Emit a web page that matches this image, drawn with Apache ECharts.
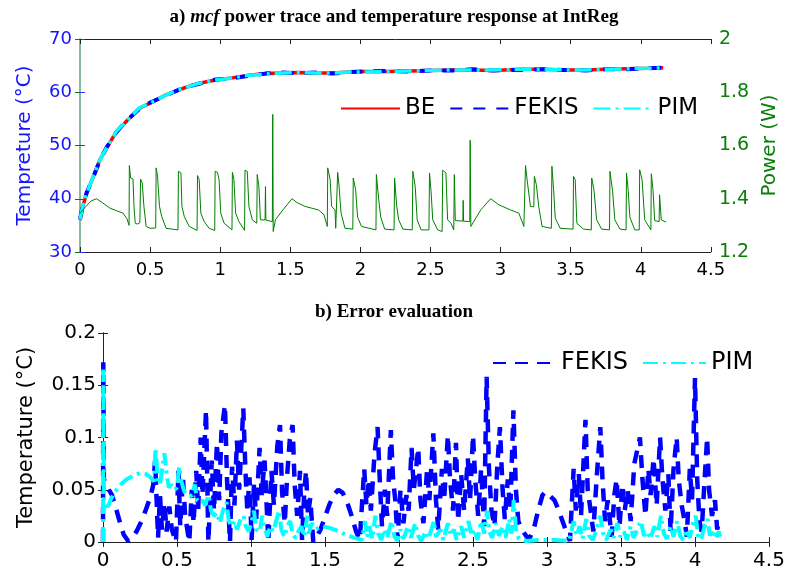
<!DOCTYPE html>
<html><head><meta charset="utf-8">
<script src="https://cdn.jsdelivr.net/npm/echarts@6/dist/echarts.min.js"></script>
<style>html,body{margin:0;padding:0;background:#fff}#c{width:788px;height:580px}</style>
</head><body><div id="c"></div>
<script>
// ---------- Panel a: temperature (°C) ----------
const tempT = [0, 0.02, 0.047, 0.094, 0.142, 0.189, 0.26, 0.33, 0.425, 0.496,
  0.614, 0.732, 0.85, 0.968, 1.087, 1.205, 1.323, 1.44, 1.56, 1.68,
  1.8, 1.92, 2.03, 2.2, 2.35, 2.5, 2.67, 2.8, 2.95, 3.14,
  3.3, 3.45, 3.61, 3.75, 3.9, 4.05, 4.16];
const beTemp = [36.0, 38.6, 41.0, 44.1, 47.3, 49.5, 52.6, 54.5, 57.0, 57.9,
  59.5, 60.7, 61.7, 62.3, 62.7, 63.2, 63.5, 63.6, 63.7, 63.6,
  63.6, 63.8, 63.9, 63.9, 64.0, 64.1, 64.2, 64.2, 64.1, 64.3,
  64.3, 64.2, 64.2, 64.3, 64.4, 64.5, 64.6];
const fekisTemp = [36.2, 38.7, 41.1, 44.0, 47.2, 49.6, 52.5, 54.6, 56.9, 58.0,
  59.4, 60.8, 61.6, 62.4, 62.6, 63.1, 63.5, 63.7, 63.6, 63.7,
  63.5, 63.8, 63.9, 64.0, 63.9, 64.1, 64.1, 64.3, 64.1, 64.2,
  64.3, 64.2, 64.1, 64.3, 64.3, 64.5, 64.6];
const pimTemp = [36.1, 38.7, 41.0, 44.2, 47.3, 49.5, 52.7, 54.5, 57.1, 57.9,
  59.5, 60.7, 61.7, 62.3, 62.7, 63.2, 63.4, 63.6, 63.7, 63.6,
  63.6, 63.8, 63.8, 63.9, 64.0, 64.1, 64.2, 64.2, 64.2, 64.3,
  64.3, 64.2, 64.2, 64.3, 64.4, 64.5, 64.6];

// ---------- Panel a: power trace (W) ----------
const powerT = [
  0, 0.04, 0.08, 0.118, 0.16, 0.213, 0.26, 0.307, 0.335, 0.35,
  0.352, 0.361, 0.378, 0.385, 0.394, 0.41, 0.427, 0.432, 0.444, 0.456,
  0.472, 0.50, 0.54, 0.543, 0.553, 0.567, 0.583, 0.614, 0.699, 0.702,
  0.72, 0.727, 0.744, 0.779, 0.835, 0.838, 0.85, 0.862, 0.886, 0.921,
  0.961, 0.964, 0.98, 0.992, 1.004, 1.028, 1.084, 1.087, 1.098, 1.11,
  1.134, 1.174, 1.177, 1.193, 1.205, 1.229, 1.261, 1.264, 1.276, 1.287,
  1.32, 1.323, 1.326, 1.372, 1.375, 1.378, 1.394, 1.45, 1.512, 1.55,
  1.606, 1.65, 1.701, 1.74, 1.764, 1.767, 1.784, 1.795, 1.819, 1.824,
  1.835, 1.838, 1.847, 1.862, 1.89, 1.946, 1.949, 1.966, 1.98, 2.008,
  2.111, 2.114, 2.131, 2.145, 2.173, 2.24, 2.244, 2.258, 2.273, 2.303,
  2.37, 2.374, 2.391, 2.405, 2.433, 2.489, 2.493, 2.504, 2.516, 2.551,
  2.583, 2.587, 2.61, 2.622, 2.646, 2.666, 2.67, 2.677, 2.731, 2.733,
  2.736, 2.78, 2.783, 2.788, 2.858, 2.929, 2.988, 3.071, 3.13, 3.166,
  3.175, 3.178, 3.189, 3.213, 3.237, 3.241, 3.255, 3.272, 3.296, 3.362,
  3.366, 3.378, 3.39, 3.425, 3.517, 3.52, 3.532, 3.544, 3.591, 3.647,
  3.65, 3.666, 3.685, 3.721, 3.777, 3.78, 3.799, 3.815, 3.851, 3.895,
  3.898, 3.91, 3.922, 3.957, 3.989, 3.992, 4.009, 4.028, 4.072, 4.075,
  4.087, 4.099, 4.131, 4.134, 4.146, 4.181];
const powerW = [
  1.345, 1.37, 1.392, 1.40, 1.385, 1.365, 1.355, 1.346, 1.325, 1.30,
  1.525, 1.478, 1.474, 1.371, 1.308, 1.305, 1.31, 1.474, 1.459, 1.371,
  1.296, 1.289, 1.29, 1.516, 1.485, 1.371, 1.333, 1.289, 1.283, 1.503,
  1.497, 1.371, 1.333, 1.296, 1.281, 1.487, 1.472, 1.346, 1.314, 1.289,
  1.281, 1.503, 1.499, 1.472, 1.346, 1.308, 1.283, 1.499, 1.472, 1.346,
  1.314, 1.281, 1.507, 1.503, 1.371, 1.321, 1.308, 1.491, 1.446, 1.321,
  1.32, 1.446, 1.32, 1.314, 1.717, 1.277, 1.321, 1.36, 1.40, 1.385,
  1.371, 1.365, 1.358, 1.34, 1.296, 1.516, 1.472, 1.371, 1.358, 1.289,
  1.289, 1.499, 1.453, 1.346, 1.289, 1.286, 1.478, 1.434, 1.331, 1.296,
  1.283, 1.491, 1.396, 1.331, 1.286, 1.283, 1.478, 1.377, 1.321, 1.286,
  1.283, 1.503, 1.446, 1.321, 1.283, 1.283, 1.497, 1.428, 1.321, 1.283,
  1.277, 1.507, 1.497, 1.321, 1.308, 1.283, 1.491, 1.318, 1.316, 1.394,
  1.316, 1.314, 1.62, 1.296, 1.358, 1.40, 1.377, 1.358, 1.346, 1.296,
  1.296, 1.525, 1.472, 1.371, 1.37, 1.484, 1.453, 1.371, 1.296, 1.289,
  1.522, 1.434, 1.327, 1.289, 1.286, 1.484, 1.472, 1.308, 1.286, 1.283,
  1.478, 1.434, 1.321, 1.286, 1.283, 1.503, 1.428, 1.321, 1.286, 1.283,
  1.497, 1.434, 1.331, 1.283, 1.283, 1.509, 1.472, 1.321, 1.283, 1.494,
  1.434, 1.318, 1.314, 1.415, 1.321, 1.312];

// ---------- Panel b: error (°C) ----------
const fekisErrT = [
  0, 0.002, 0.006, 0.02, 0.04, 0.06, 0.08, 0.10, 0.12, 0.14,
  0.17, 0.20, 0.23, 0.26, 0.29, 0.32, 0.34,
  0.352, 0.372, 0.385, 0.398, 0.415, 0.43, 0.448, 0.465, 0.493, 0.51,
  0.522, 0.54, 0.555, 0.583, 0.60, 0.612, 0.63, 0.643, 0.66, 0.672,
  0.696, 0.712, 0.735, 0.75, 0.77, 0.785, 0.80, 0.824, 0.838, 0.858,
  0.872, 0.888, 0.905, 0.92, 0.948, 0.962, 0.975, 0.99, 1.004, 1.02,
  1.035, 1.058, 1.072, 1.092, 1.117, 1.138, 1.155, 1.178, 1.196, 1.21,
  1.228, 1.245, 1.262, 1.281, 1.295, 1.312, 1.331, 1.345, 1.36, 1.372,
  1.385, 1.40, 1.421,
  1.44, 1.47, 1.50, 1.53, 1.56, 1.59, 1.62, 1.65, 1.68, 1.71,
  1.735,
  1.765, 1.78, 1.795, 1.81, 1.835, 1.855, 1.87, 1.885, 1.905, 1.92,
  1.945, 1.96, 1.975, 1.99, 2.01, 2.03, 2.05, 2.065, 2.085, 2.10,
  2.13, 2.145, 2.165, 2.19, 2.205, 2.232, 2.25, 2.265, 2.29, 2.305,
  2.33, 2.345, 2.365, 2.385, 2.40, 2.42, 2.44, 2.465, 2.48, 2.50,
  2.515, 2.535, 2.555, 2.575, 2.592, 2.608, 2.625, 2.645, 2.665, 2.682,
  2.70, 2.715, 2.735, 2.752, 2.773, 2.79, 2.806, 2.83, 2.863, 2.88,
  2.91, 2.94, 2.97, 2.99, 3.02, 3.05, 3.08, 3.11, 3.135, 3.155,
  3.18, 3.195, 3.215, 3.23, 3.26, 3.275, 3.29, 3.313, 3.335, 3.36,
  3.375, 3.392, 3.41, 3.437, 3.455, 3.47, 3.49, 3.51, 3.525, 3.545,
  3.565, 3.59, 3.628, 3.645, 3.665, 3.685, 3.70, 3.72, 3.741, 3.764,
  3.78, 3.80, 3.82, 3.835, 3.855, 3.876, 3.89, 3.91, 3.93, 3.945,
  3.965, 3.98, 4.0, 4.015, 4.03, 4.045, 4.065, 4.082, 4.095, 4.115,
  4.135, 4.15, 4.165];
const fekisErr = [
  0, 0.172, 0.06, 0.056, 0.05, 0.045, 0.036, 0.026, 0.016, 0.007,
  0.001, 0.004, 0.011, 0.02, 0.031, 0.043, 0.055,
  0.078, 0.004, 0.045, 0.012, 0.038, 0.01, 0.034, 0.012, 0.0, 0.068,
  0.015, 0.062, 0.025, 0.0, 0.05, 0.018, 0.068, 0.03, 0.10, 0.045,
  0.126, 0.0, 0.078, 0.03, 0.095, 0.04, 0.105, 0.131, 0.06, 0.0,
  0.072, 0.035, 0.097, 0.05, 0.128, 0.07, 0.03, 0.062, 0.002, 0.055,
  0.022, 0.09, 0.045, 0.078, 0.0, 0.068, 0.035, 0.092, 0.112, 0.048,
  0.018, 0.065, 0.098, 0.112, 0.055, 0.025, 0.068, 0.002, 0.048, 0.068,
  0.025, 0.042, 0.0,
  0.004, 0.012, 0.024, 0.036, 0.045, 0.05, 0.047, 0.038, 0.025, 0.01,
  0.002,
  0.07, 0.035, 0.06, 0.03, 0.085, 0.11, 0.06, 0.015, 0.05, 0.025,
  0.107, 0.06, 0.04, 0.002, 0.05, 0.018, 0.045, 0.03, 0.09, 0.05,
  0.09, 0.04, 0.018, 0.07, 0.04, 0.104, 0.04, 0.012, 0.07, 0.04,
  0.102, 0.06, 0.03, 0.095, 0.02, 0.065, 0.03, 0.08, 0.04, 0.102,
  0.06, 0.025, 0.07, 0.015, 0.158, 0.07, 0.03, 0.015, 0.075, 0.11,
  0.05, 0.022, 0.06, 0.03, 0.126, 0.05, 0.02, 0.012, 0.005, 0.003,
  0.012, 0.03, 0.045, 0.048, 0.044, 0.04, 0.03, 0.018, 0.008, 0.001,
  0.07, 0.03, 0.065, 0.025, 0.117, 0.05, 0.035, 0.01, 0.06, 0.11,
  0.06, 0.02, 0.04, 0.005, 0.045, 0.06, 0.015, 0.055, 0.03, 0.05,
  0.02, 0.075, 0.1, 0.06, 0.025, 0.07, 0.045, 0.08, 0.035, 0.1,
  0.06, 0.03, 0.065, 0.01, 0.07, 0.1, 0.06, 0.035, 0.02, 0.005,
  0.07, 0.04, 0.157, 0.06, 0.02, 0.01, 0.06, 0.1, 0.05, 0.025,
  0.04, 0.012, 0.02];
const pimErrT = [
  0, 0.002, 0.006, 0.02, 0.035, 0.05, 0.08, 0.12, 0.16, 0.2,
  0.25, 0.29, 0.32, 0.345,
  0.355, 0.37, 0.385, 0.40, 0.415, 0.43, 0.445, 0.46, 0.48, 0.50,
  0.515, 0.53, 0.545, 0.56, 0.58, 0.60, 0.62, 0.635, 0.65, 0.67,
  0.69, 0.712, 0.73, 0.75, 0.77, 0.79, 0.81, 0.835, 0.85, 0.87,
  0.89, 0.905, 0.93, 0.95, 0.965, 0.985, 1.005, 1.02, 1.035, 1.06,
  1.075, 1.09, 1.11, 1.13, 1.15, 1.17, 1.19, 1.205, 1.225, 1.245,
  1.265, 1.28, 1.30, 1.32, 1.34, 1.36, 1.38, 1.39, 1.41, 1.44,
  1.47, 1.52, 1.58, 1.64, 1.70, 1.75,
  1.77, 1.785, 1.80, 1.82, 1.84, 1.86, 1.88, 1.90, 1.92, 1.95,
  1.97, 1.99, 2.01, 2.03, 2.06, 2.08, 2.11, 2.13, 2.15, 2.18,
  2.20, 2.235, 2.25, 2.28, 2.30, 2.33, 2.35, 2.37, 2.39, 2.42,
  2.44, 2.47, 2.49, 2.51, 2.53, 2.555, 2.575, 2.595, 2.61, 2.63,
  2.655, 2.675, 2.70, 2.72, 2.745, 2.76, 2.775, 2.79, 2.81, 2.86,
  2.95, 3.05, 3.15,
  3.18, 3.20, 3.22, 3.24, 3.265, 3.285, 3.31, 3.335, 3.36, 3.38,
  3.40, 3.43, 3.45, 3.475, 3.495, 3.52, 3.54, 3.565, 3.585, 3.61,
  3.635, 3.655, 3.68, 3.70, 3.725, 3.745, 3.77, 3.79, 3.81, 3.835,
  3.855, 3.88, 3.90, 3.92, 3.945, 3.965, 3.99, 4.005, 4.02, 4.04,
  4.065, 4.085, 4.10, 4.12, 4.14, 4.16, 4.17];
const pimErr = [
  0, 0.165, 0.04, 0.035, 0.034, 0.04, 0.048, 0.055, 0.06, 0.063,
  0.066, 0.065, 0.062, 0.058,
  0.09, 0.06, 0.055, 0.07, 0.085, 0.065, 0.052, 0.055, 0.05, 0.052,
  0.072, 0.058, 0.05, 0.046, 0.045, 0.044, 0.055, 0.04, 0.038, 0.04,
  0.035, 0.045, 0.03, 0.025, 0.028, 0.018, 0.03, 0.038, 0.02, 0.015,
  0.02, 0.012, 0.022, 0.025, 0.015, 0.01, 0.02, 0.03, 0.012, 0.01,
  0.025, 0.015, 0.005, 0.015, 0.01, 0.02, 0.03, 0.012, 0.005, 0.015,
  0.02, 0.008, 0.004, 0.01, 0.015, 0.005, 0.025, 0.008, 0.018, 0.012,
  0.015, 0.014, 0.011, 0.007, 0.004, 0.002,
  0.02, 0.005, 0.015, 0.003, 0.025, 0.008, 0.002, 0.012, 0.004, 0.02,
  0.005, 0.001, 0.012, 0.003, 0.015, 0.004, 0.018, 0.006, 0.001, 0.01,
  0.003, 0.02, 0.005, 0.012, 0.002, 0.018, 0.006, 0.012, 0.002, 0.015,
  0.004, 0.02, 0.006, 0.012, 0.002, 0.02, 0.008, 0.03, 0.01, 0.004,
  0.018, 0.006, 0.015, 0.004, 0.022, 0.008, 0.04, 0.012, 0.003, 0.001,
  0.002, 0.002, 0.001,
  0.02, 0.006, 0.015, 0.003, 0.022, 0.006, 0.002, 0.012, 0.025, 0.008,
  0.002, 0.012, 0.004, 0.018, 0.005, 0.01, 0.002, 0.015, 0.004, 0.012,
  0.02, 0.006, 0.01, 0.003, 0.015, 0.005, 0.025, 0.008, 0.003, 0.015,
  0.005, 0.02, 0.006, 0.002, 0.012, 0.004, 0.02, 0.025, 0.006, 0.002,
  0.015, 0.022, 0.006, 0.012, 0.003, 0.01, 0.005];

// ---------- Axis ticks ----------
const xTicks = {min: 0, max: 4.5, interval: 0.5};
const tempTicks = {min: 30, max: 70, interval: 10};
const powerTicks = {min: 1.2, max: 2, interval: 0.2};
const errTicks = {min: 0, max: 0.2, interval: 0.05};

function zip(t, v) { const n = Math.min(t.length, v.length); const o = []; for (let i = 0; i < n; i++) o.push([t[i], v[i]]); return o; }

const SANS = 'DejaVu Sans';
const SERIF = 'Liberation Serif';
const chart = echarts.init(document.getElementById('c'), null, {renderer: 'canvas'});

function xAx(grid, pos, fs, show) {
  return Object.assign({type: 'value', gridIndex: grid, position: pos}, xTicks, {
    axisLine: {lineStyle: {color: '#222', width: 1}},
    axisTick: {inside: true, length: 5, lineStyle: {color: '#222'}},
    axisLabel: {show: show, margin: 9, fontSize: fs, color: '#000', fontFamily: SANS},
    splitLine: {show: false}
  });
}

const option = {
  animation: false,
  backgroundColor: '#fff',
  title: [
    {text: '{b|a) }{i|mcf}{b| power trace and temperature response at IntReg}', left: 'center', top: 3,
     textStyle: {rich: {
       b: {fontFamily: SERIF, fontWeight: 'bold', fontSize: 19, color: '#000'},
       i: {fontFamily: SERIF, fontWeight: 'bold', fontStyle: 'italic', fontSize: 19, color: '#000'}}}},
    {text: '{b|b) Error evaluation}', left: 'center', top: 298,
     textStyle: {rich: {b: {fontFamily: SERIF, fontWeight: 'bold', fontSize: 19, color: '#000'}}}}
  ],
  grid: [
    {left: 80, right: 73, top: 39, bottom: 328},
    {left: 103, right: 19, top: 333, bottom: 38}
  ],
  legend: [
    {data: ['BE', 'FEKIS', 'PIM'], left: 335, top: 92, itemWidth: 59, itemHeight: 14, itemGap: 14,
     itemStyle: {opacity: 0},
     textStyle: {fontSize: 23, color: '#000', fontFamily: SANS}},
    {data: ['FEKIS ', 'PIM '], left: 487, top: 346, itemWidth: 63, itemHeight: 14, itemGap: 14,
     itemStyle: {opacity: 0},
     formatter: n => n.trim(),
     textStyle: {fontSize: 24, color: '#000', fontFamily: SANS}}
  ],
  xAxis: [
    xAx(0, 'bottom', 18, true),
    xAx(0, 'top', 18, false),
    xAx(1, 'bottom', 20, true),
    xAx(1, 'top', 20, false)
  ],
  yAxis: [
    Object.assign({type: 'value', gridIndex: 0, position: 'left'}, tempTicks, {
      name: 'Tempreture (°C)', nameLocation: 'middle', nameGap: 45,
      nameTextStyle: {color: '#1414ff', fontSize: 20, fontFamily: SANS},
      axisLine: {lineStyle: {color: '#8a8aff', width: 1.5}},
      axisTick: {inside: true, length: 5, lineStyle: {color: '#3333ff'}},
      axisLabel: {margin: 8, fontSize: 18, color: '#1414ff', fontFamily: SANS},
      splitLine: {show: false}}),
    Object.assign({type: 'value', gridIndex: 0, position: 'right'}, powerTicks, {
      name: 'Power (W)', nameLocation: 'middle', nameGap: 44,
      nameTextStyle: {color: '#0a7f0a', fontSize: 20, fontFamily: SANS},
      axisLine: {lineStyle: {color: '#7fbf7f', width: 1.5}},
      axisTick: {inside: true, length: 5, lineStyle: {color: '#008000'}},
      axisLabel: {margin: 8, fontSize: 19, color: '#0a7f0a', fontFamily: SANS},
      splitLine: {show: false}}),
    Object.assign({type: 'value', gridIndex: 1, position: 'left'}, errTicks, {
      name: 'Temperature (°C)', nameLocation: 'middle', nameGap: 66,
      nameTextStyle: {color: '#000', fontSize: 21, fontFamily: SANS},
      axisLine: {lineStyle: {color: '#222'}},
      axisTick: {inside: true, length: 5, lineStyle: {color: '#222'}},
      axisLabel: {margin: 7, fontSize: 20, color: '#000', fontFamily: SANS},
      splitLine: {show: false}}),
    Object.assign({type: 'value', gridIndex: 1, position: 'right'}, errTicks, {
      axisLine: {lineStyle: {color: '#222'}},
      axisTick: {inside: true, length: 5, lineStyle: {color: '#222'}},
      axisLabel: {show: false},
      splitLine: {show: false}})
  ],
  series: [
    {name: 'BE', type: 'line', xAxisIndex: 0, yAxisIndex: 0, symbol: 'none', data: zip(tempT, beTemp),
     lineStyle: {color: '#ff0000', width: 3.5}, itemStyle: {color: '#ff0000'}},
    {name: 'FEKIS', type: 'line', xAxisIndex: 0, yAxisIndex: 0, symbol: 'none', data: zip(tempT, fekisTemp),
     lineStyle: {color: '#0000ff', width: 4, type: [12, 11]}, itemStyle: {color: '#0000ff'}},
    {name: 'PIM', type: 'line', xAxisIndex: 0, yAxisIndex: 0, symbol: 'none', data: zip(tempT, pimTemp),
     lineStyle: {color: '#00ffff', width: 3.5, type: [17, 5, 3, 5]}, itemStyle: {color: '#00ffff'}},
    {name: 'Power', type: 'line', xAxisIndex: 0, yAxisIndex: 1, symbol: 'none', data: zip(powerT, powerW),
     lineStyle: {color: '#008000', width: 1}, itemStyle: {color: '#008000'}},
    {name: 'FEKIS ', type: 'line', xAxisIndex: 2, yAxisIndex: 2, symbol: 'none', data: zip(fekisErrT, fekisErr),
     lineStyle: {color: '#0000ff', width: 4.5, type: [13, 9]}, itemStyle: {color: '#0000ff'}},
    {name: 'PIM ', type: 'line', xAxisIndex: 2, yAxisIndex: 2, symbol: 'none', data: zip(pimErrT, pimErr),
     lineStyle: {color: '#00ffff', width: 4, type: [15, 5, 3, 5]}, itemStyle: {color: '#00ffff'}}
  ]
};
chart.setOption(option);
</script>
</body></html>
